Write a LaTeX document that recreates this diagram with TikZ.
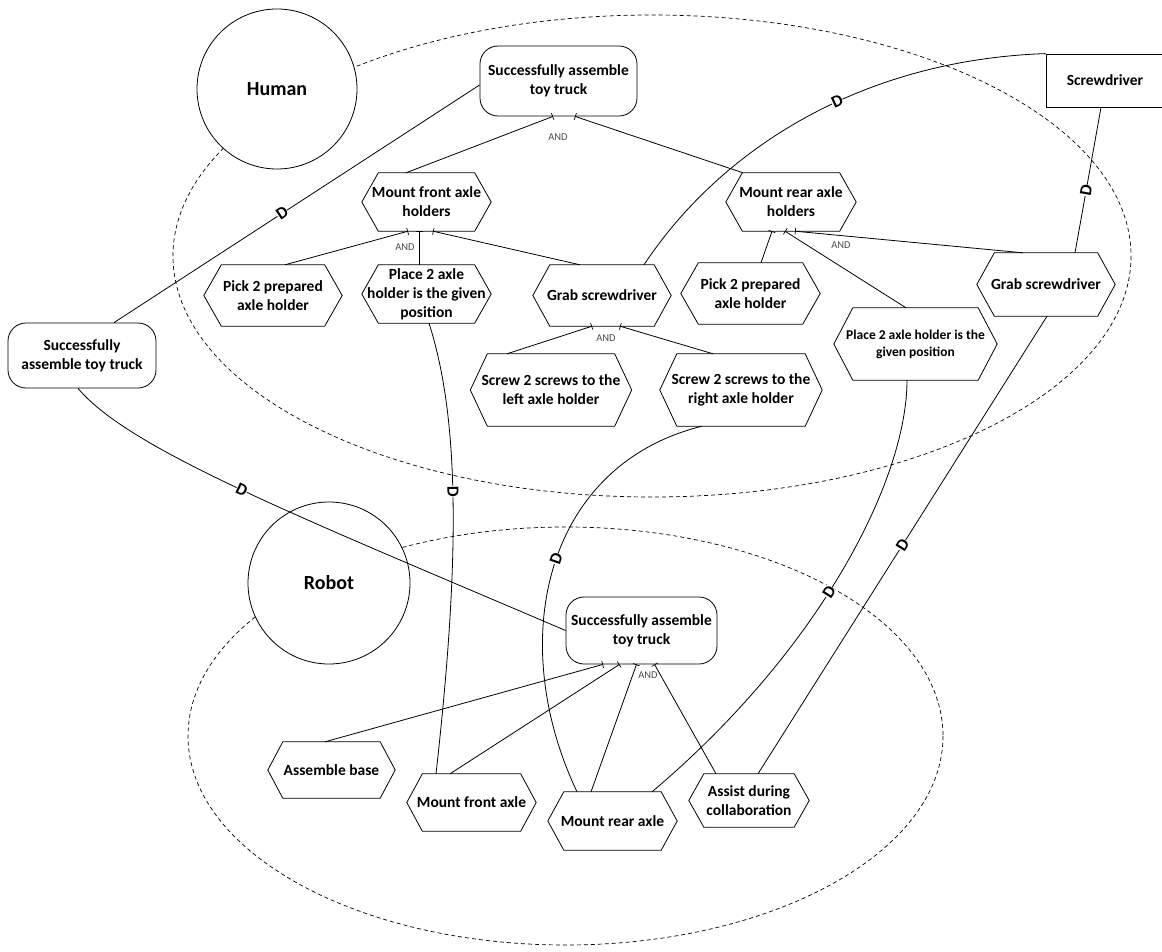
\documentclass[tikz,border=0pt]{standalone}
\usepackage{fontspec}
\setmainfont{Carlito}
\usetikzlibrary{arrows.meta,calc}

% hexagonal goal outline around a node of full width: #1 = node, #2 = tip length
\newcommand\hexout[2]{%
  \draw[line width=0.8pt] ([xshift=#2pt]#1.north west) -- ([xshift=-#2pt]#1.north east)
    -- (#1.east) -- ([xshift=-#2pt]#1.south east) -- ([xshift=#2pt]#1.south west)
    -- (#1.west) -- cycle;}

\begin{document}
\begin{tikzpicture}[x=1pt,y=-1pt,
  txt/.style={font=\bfseries\fontsize{15.5}{19}\selectfont, align=center, inner sep=0pt},
  goal/.style={txt, draw, fill=white, rounded corners=18pt, line width=0.8pt},
  hexa/.style={txt},
  res/.style={txt, draw, fill=white, line width=0.8pt},
  actor/.style={circle, draw, fill=white, line width=0.8pt, inner sep=0pt,
    font=\bfseries\fontsize{20}{24}\selectfont},
  bound/.style={dash pattern=on 4pt off 3pt, line width=0.7pt},
  link/.style={line width=0.8pt},
  andlink/.style={link, -{Bar[width=7pt,line width=0.7pt]}},
  dmark/.style={font=\bfseries\fontsize{17}{17}\selectfont, fill=white, inner sep=0.2pt, sloped},
  andlbl/.style={font=\fontsize{10.5}{12}\selectfont, text=black!70}
]
\useasboundingbox (0,0) rectangle (1162,952);
\clip (0,0) rectangle (1162,952);

% actor boundaries
\draw[bound] (652,256) ellipse [x radius=479, y radius=241];
\draw[bound] (565.5,736) ellipse [x radius=377.5, y radius=209];

% actors
\node[actor, minimum size=160] (hum) at (277,89) {Human};
\node[actor, minimum size=162] (rob) at (329,583) {Robot};

% goals and resource
\node[goal, minimum width=157, minimum height=70] (hg) at (558.5,81) {Successfully assemble\\toy truck};
\node[goal, minimum width=148, minimum height=65] (lg) at (82,355.5) {Successfully\\assemble toy truck};
\node[goal, minimum width=151, minimum height=67] (rg) at (641.5,630.5) {Successfully assemble\\toy truck};
\node[res, minimum width=118, minimum height=53] (sd) at (1105,80.5) {Screwdriver};

% human tasks
\node[hexa, minimum width=129, minimum height=58] (mfh) at (426.5,202) {Mount front axle\\holders};
\node[hexa, minimum width=130, minimum height=58] (mrh) at (791,202) {Mount rear axle\\holders};
\node[hexa, minimum width=138, minimum height=61] (pl) at (273,295.5) {Pick 2 prepared\\axle holder};
\node[hexa, minimum width=129, minimum height=58] (pa) at (426.5,294) {Place 2 axle\\holder is the given\\position};
\node[hexa, minimum width=138, minimum height=61] (gl) at (602,295.5) {Grab screwdriver};
\node[hexa, minimum width=139, minimum height=61] (pr) at (750.5,293.5) {Pick 2 prepared\\axle holder};
\node[hexa, minimum width=138, minimum height=63] (gr) at (1046,284.5) {Grab screwdriver};
\node[hexa, minimum width=163, minimum height=72, font=\bfseries\fontsize{13.5}{17}\selectfont] (par) at (915.5,344) {Place 2 axle holder is the\\given position};
\node[hexa, minimum width=161, minimum height=72] (sl) at (551,390) {Screw 2 screws to the\\left axle holder};
\node[hexa, minimum width=162, minimum height=72] (sr) at (741,390) {Screw 2 screws to the\\right axle holder};

% robot tasks
\node[hexa, minimum width=127, minimum height=56] (ab) at (331.5,770) {Assemble base};
\node[hexa, minimum width=129, minimum height=57] (mfa) at (471.5,802.5) {Mount front axle};
\node[hexa, minimum width=129, minimum height=58] (mra) at (612.5,821) {Mount rear axle};
\node[hexa, minimum width=120, minimum height=53] (asd) at (749,800.5) {Assist during\\collaboration};

\hexout{mfh}{16.5}
\hexout{mrh}{16.5}
\hexout{pl}{17.5}
\hexout{pa}{16.5}
\hexout{gl}{17}
\hexout{pr}{17.5}
\hexout{gr}{17.5}
\hexout{par}{19}
\hexout{sl}{17}
\hexout{sr}{17}
\hexout{ab}{15}
\hexout{mfa}{15.5}
\hexout{mra}{16}
\hexout{asd}{15}

% AND decompositions
\draw[andlink] ([xshift=-20.5]mfh.north) -- ([xshift=-5.5]hg.south);
\draw[andlink] ([xshift=-48]mrh.north) -- ([xshift=16.5]hg.south);
\node[andlbl] (and1) at (558,137) {AND};

\draw[andlink] ([xshift=12]pl.north) -- ([xshift=-18.5]mfh.south);
\draw[andlink] ([xshift=-7.5]pa.north) -- ([xshift=-7.5]mfh.south);
\draw[andlink] ([xshift=-22]gl.north) -- ([xshift=6.5]mfh.south);
\node[andlbl] (and2) at (405,247) {AND};

\draw[andlink] ([xshift=10.5]pr.north) -- ([xshift=-19]mrh.south);
\draw[andlink] ([xshift=-9.5]par.north) -- ([xshift=-6]mrh.south);
\draw[andlink] ([xshift=-23]gr.north) -- ([xshift=4]mrh.south);
\node[andlbl] (and3) at (841,245) {AND};

\draw[andlink] ([xshift=-44]sl.north) -- ([xshift=-10]gl.south);
\draw[andlink] ([xshift=-28]sr.north) -- ([xshift=18]gl.south);
\node[andlbl] (and4) at (606,338) {AND};

\draw[andlink] ([xshift=-6.5]ab.north) -- ([xshift=-38.5]rg.south);
\draw[andlink] ([xshift=-21.5]mfa.north) -- ([xshift=-22]rg.south);
\draw[andlink] ([xshift=-21.5]mra.north) -- ([xshift=-5]rg.south);
\draw[andlink] ([xshift=-33]asd.north) -- ([xshift=13]rg.south);
\node[andlbl] (and5) at (648,675) {AND};

% dependencies
\draw[link] ([yshift=-4]hg.west) -- node[dmark, pos=0.54] {D} ([xshift=32]lg.north);
\draw[link] ([xshift=-4]lg.south) .. controls (130,450) and (300,517) .. node[dmark, pos=0.5] {D} (rg.west);
\draw[link] ([xshift=2.5]pa.south) .. controls (460,420) and (460,560) .. node[dmark, pos=0.47] {D} ([xshift=-35.5]mfa.north);
\draw[link] ([xshift=-39]sr.south) .. controls (545,465) and (505,640) .. node[dmark, pos=0.48] {D} ([xshift=-35.5]mra.north);
\draw[link] ([xshift=42]gl.north) .. controls (720,150) and (860,60) .. node[dmark, pos=0.58] {D} (sd.north west);
\draw[link] ([xshift=-4]sd.south) -- node[dmark, pos=0.57] {D} ([xshift=29]gr.north);
\draw[link] ([xshift=-8.5]par.south) .. controls (907,480) and (820,650) .. node[dmark, pos=0.55] {D} ([xshift=39.5]mra.north);
\draw[link] ([xshift=1]gr.south) -- node[dmark, pos=0.5] {D} ([xshift=9]asd.north);
\end{tikzpicture}
\end{document}
